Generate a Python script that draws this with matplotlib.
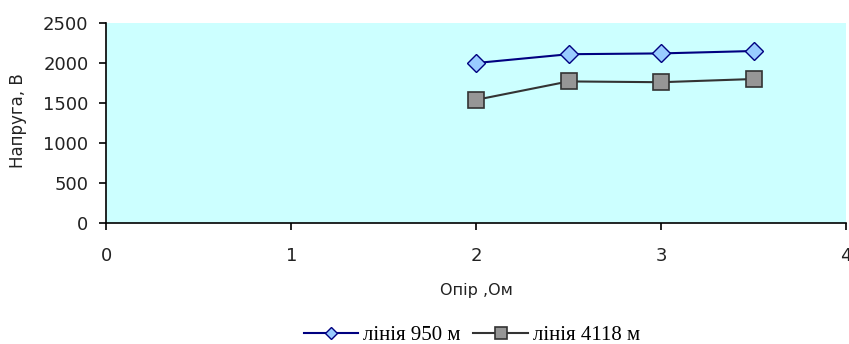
import matplotlib
matplotlib.use("Agg")
import matplotlib.pyplot as plt

x_vals = [2, 2.5, 3, 3.5]
line950 = [2000, 2110, 2120, 2150]
line4118 = [1540, 1770, 1760, 1800]
labels = ["лінія 950 м", "лінія 4118 м"]
x_ticks = [0, 1, 2, 3, 4]
y_ticks = [0, 500, 1000, 1500, 2000, 2500]

fig = plt.figure(figsize=(8.49, 3.44), dpi=100)
ax = fig.add_axes([0.1254, 0.3517, 0.871, 0.5814])
ax.set_facecolor("#CCFFFF")

ax.plot(x_vals, line950, color="#000080", lw=1.5, marker="D", ms=9,
        mfc="#99CCFF", mec="#000080", mew=1.0, label=labels[0])
ax.plot(x_vals, line4118, color="#333333", lw=1.5, marker="s", ms=11.5,
        mfc="#969696", mec="#333333", mew=1.2, label=labels[1])

ax.set_xlim(0, 4)
ax.set_ylim(0, 2500)
ax.set_xticks(x_ticks)
ax.set_yticks(y_ticks)
ax.set_yticklabels([str(v) for v in y_ticks])
ax.set_xticklabels([str(v) for v in x_ticks])
for s in ["top", "right"]:
    ax.spines[s].set_visible(False)
for s in ["left", "bottom"]:
    ax.spines[s].set_color("black")
    ax.spines[s].set_linewidth(1.2)
ax.tick_params(direction="out", length=5, width=1.2, colors="black",
               labelsize=13)
ax.tick_params(axis="y", pad=8)
ax.tick_params(axis="x", pad=12)
for lab in ax.get_xticklabels() + ax.get_yticklabels():
    lab.set_family("DejaVu Sans")
    lab.set_color("#222222")

ax.set_xlabel("Опір ,Ом", family="DejaVu Sans", fontsize=11.5, color="#222222")
ax.set_ylabel("Напруга, В", family="DejaVu Sans", fontsize=12, color="#222222")
ax.xaxis.set_label_coords(0.5, -0.335)
ax.yaxis.set_label_coords(-0.1197, 0.51)
ax.xaxis.label.set_va("center")
ax.yaxis.label.set_va("center")

leg = fig.legend(loc="center", bbox_to_anchor=(0.556, 0.025), ncol=2,
                 frameon=False, prop={"family": "Liberation Serif", "size": 15},
                 handlelength=2.6, handletextpad=0.25, columnspacing=0.6,
                 markerscale=0.7, borderpad=0.0)

fig.savefig("out.png", dpi=100)
